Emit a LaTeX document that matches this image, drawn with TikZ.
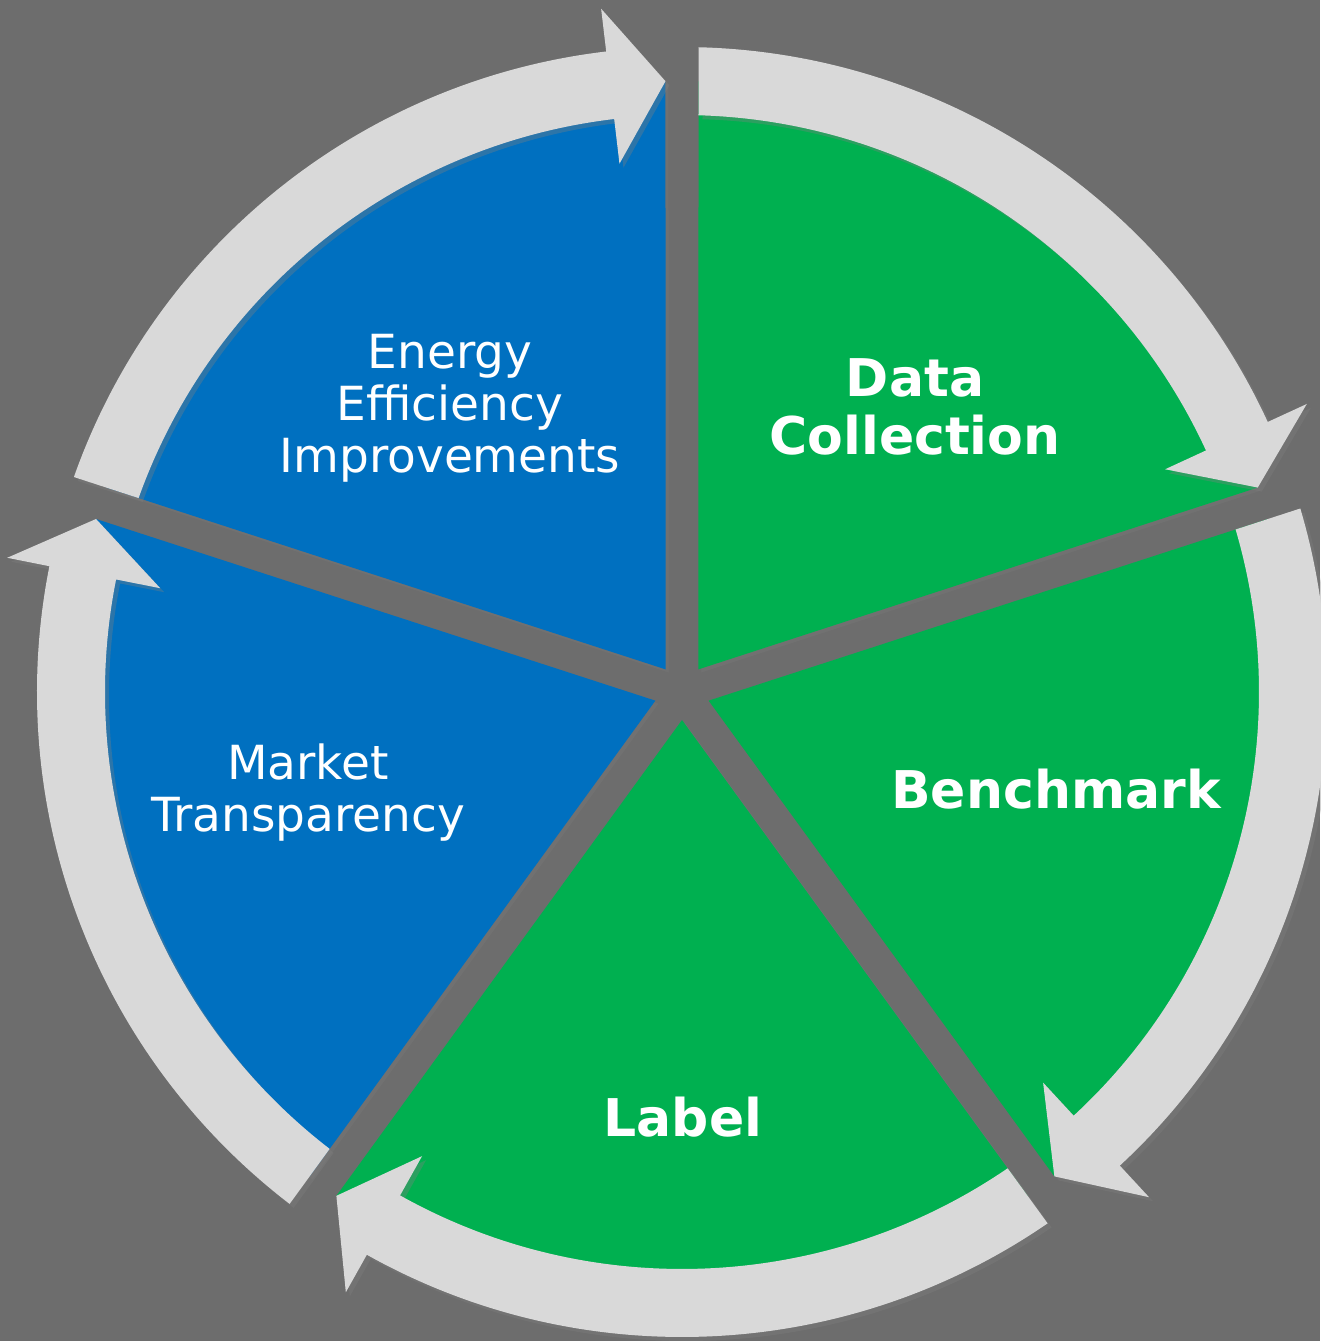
\documentclass[tikz,border=0pt]{standalone}
\usepackage{fontspec}
\setmainfont{DejaVu Sans}
\usetikzlibrary{shadows}
\definecolor{bggray}{RGB}{109,109,109}
\definecolor{ringgray}{RGB}{217,217,217}
\definecolor{stepgreen}{RGB}{0,176,80}
\definecolor{stepblue}{RGB}{0,112,192}
\begin{document}
\begin{tikzpicture}[x=1pt,y=1pt,
    wedge/.style={draw=none,
      drop shadow={shadow xshift=3pt,shadow yshift=-3pt,opacity=0.25}},
    ringarrow/.style={fill=ringgray,draw=none,
      drop shadow={shadow xshift=4pt,shadow yshift=-4pt,opacity=0.35}},
    greentext/.style={text=white,align=center,font=\bfseries\fontsize{52}{58}\selectfont},
    bluetext/.style={text=white,align=center,font=\fontsize{47}{52}\selectfont}]
  % background
  \useasboundingbox (-682,-649) rectangle (638,692) ;
  \fill [bggray] (-682,-649) rectangle (638,692) ;
  % the five wedges
  \path [wedge,fill=stepgreen] (54:28) -- (88.45:611) arc[start angle=88.45,end angle=19.55,radius=611] -- cycle ;
  \path [wedge,fill=stepgreen] (-18:28) -- (16.45:611) arc[start angle=16.45,end angle=-52.45,radius=611] -- cycle ;
  \path [wedge,fill=stepgreen] (-90:28) -- (-55.55:611) arc[start angle=-55.55,end angle=-124.45,radius=611] -- cycle ;
  \path [wedge,fill=stepblue] (-162:28) -- (-127.55:611) arc[start angle=-127.55,end angle=-196.45,radius=611] -- cycle ;
  \path [wedge,fill=stepblue] (126:28) -- (160.45:611) arc[start angle=160.45,end angle=91.55,radius=611] -- cycle ;
  % ring arrows, clockwise
  \path [ringarrow] (88.53:645) arc[start angle=88.53,end angle=24.75,radius=645] -- (24.75:688) -- (19.55:611) -- (24.75:532) -- (24.75:577) arc[start angle=24.75,end angle=88.36,radius=577] -- cycle ;
  \path [ringarrow] (16.53:645) arc[start angle=16.53,end angle=-47.25,radius=645] -- (-47.25:688) -- (-52.45:611) -- (-47.25:532) -- (-47.25:577) arc[start angle=-47.25,end angle=16.36,radius=577] -- cycle ;
  \path [ringarrow] (-55.47:645) arc[start angle=-55.47,end angle=-119.25,radius=645] -- (-119.25:688) -- (-124.45:611) -- (-119.25:532) -- (-119.25:577) arc[start angle=-119.25,end angle=-55.64,radius=577] -- cycle ;
  \path [ringarrow] (-127.47:645) arc[start angle=-127.47,end angle=-191.25,radius=645] -- (-191.25:688) -- (-196.45:611) -- (-191.25:532) -- (-191.25:577) arc[start angle=-191.25,end angle=-127.64,radius=577] -- cycle ;
  \path [ringarrow] (160.53:645) arc[start angle=160.53,end angle=96.75,radius=645] -- (96.75:688) -- (91.55:611) -- (96.75:532) -- (96.75:577) arc[start angle=96.75,end angle=160.36,radius=577] -- cycle ;
  % labels
  \node [greentext] (datacoll) at (233,285) {Data\\Collection} ;
  \node [greentext] (benchmark) at (374,-97) {Benchmark} ;
  \node [greentext] (label) at (1,-425) {Label} ;
  \node [bluetext] (market) at (-374,-101) {Market\\Transparency} ;
  \node [bluetext] (energy) at (-232,284) {Energy\\Efficiency\\Improvements} ;
\end{tikzpicture}
\end{document}
